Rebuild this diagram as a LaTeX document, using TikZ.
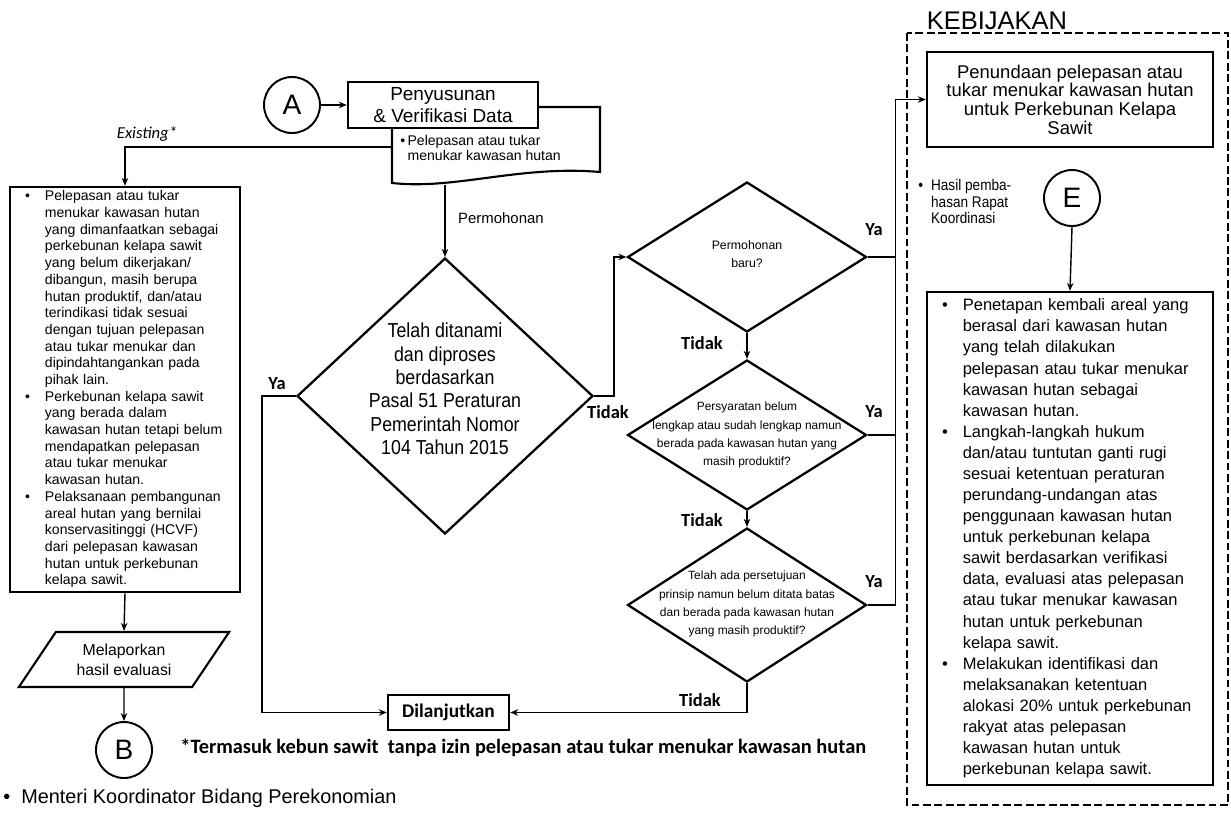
\documentclass[tikz,border=0pt]{standalone}
\usepackage{fontspec}
\setmainfont{Liberation Sans}
\newfontfamily\narrowfont{Liberation Sans}[FakeStretch=0.88]
\newfontfamily\labelfont{Carlito}
\usetikzlibrary{positioning,arrows.meta,shapes.geometric}

\tikzset{
  thickbox/.style={draw, line width=1.4pt, fill=white, inner sep=0pt, align=center},
  decision/.style={draw, diamond, line width=1.3pt, inner sep=0pt},
  conn/.style={line width=0.8pt},
  yesno/.style={font=\labelfont\bfseries\fontsize{10.5}{12}\selectfont, inner sep=1pt},
  connector/.style={draw, circle, line width=1.1pt, minimum size=1.12cm, inner sep=0pt, font=\fontsize{16}{18}\selectfont},
}

\begin{document}
\begin{tikzpicture}[x=0.02cm, y=-0.02cm, >={Stealth[length=1.6mm,width=1.3mm]}]
\useasboundingbox[fill=white] (0,0) rectangle (1231,812);

% top: data preparation
\node[connector] (circA) at (292,105) {A};
\draw[line width=1.2pt, fill=white] (392,107) -- (600,107) -- (600,172)
  .. controls (520,165) and (455,190) .. (392,183) -- cycle;
\node[thickbox, minimum width=3.8cm, minimum height=0.92cm, font=\fontsize{10.8}{12.3}\selectfont] (prep) at (443,105) {Penyusunan\\\& Verifikasi Data};
\node[anchor=west, align=left, inner sep=0pt, font=\fontsize{8}{8.6}\selectfont] (doctxt) at (400,148) {\textbullet\,Pelepasan atau tukar\\\phantom{\textbullet\,}menukar kawasan hutan};
\coordinate (docL) at (392,147);
\coordinate (docB) at (445,185);
\draw[conn,->] (circA) -- (prep);

% left branch
\node[thickbox, minimum width=4.6cm, minimum height=8.1cm, text width=4.3cm, inner xsep=0.15cm, align=left, font=\fontsize{8}{9.5}\selectfont] (lbox) at (125,389.5) {%
\begin{tabular}{@{\hspace{0.15cm}}l@{\hspace{0.3cm}}l@{}}
\textbullet & Pelepasan atau tukar\\
 & menukar kawasan hutan\\
 & yang dimanfaatkan sebagai\\
 & perkebunan kelapa sawit\\
 & yang belum dikerjakan/\\
 & dibangun, masih berupa\\
 & hutan produktif, dan/atau\\
 & terindikasi tidak sesuai\\
 & dengan tujuan pelepasan\\
 & atau tukar menukar dan\\
 & dipindahtangankan pada\\
 & pihak lain.\\
\textbullet & Perkebunan kelapa sawit\\
 & yang berada dalam\\
 & kawasan hutan tetapi belum\\
 & mendapatkan pelepasan\\
 & atau tukar menukar\\
 & kawasan hutan.\\
\textbullet & Pelaksanaan pembangunan\\
 & areal hutan yang bernilai\\
 & konservasitinggi (HCVF)\\
 & dari pelepasan kawasan\\
 & hutan untuk perkebunan\\
 & kelapa sawit.
\end{tabular}};
\node[font=\labelfont\itshape\fontsize{9.5}{11}\selectfont] (exist) at (147,134) {Existing*};
\draw[conn,->] (docL) -| (lbox.north);
\node[draw, trapezium, trapezium left angle=51, trapezium right angle=129, trapezium stretches=true,
  minimum width=4.24cm, minimum height=1.1cm, line width=1.2pt, inner sep=0pt, align=center,
  font=\fontsize{9}{11.5}\selectfont] (report) at (124,659.5) {Melaporkan\\hasil evaluasi};
\node[connector] (circB) at (124,750) {B};
\draw[conn,->] (lbox.south) -- (report.north);
\draw[conn,->] (report.south) -- (circB.north);
\node[anchor=west, inner sep=0pt, font=\fontsize{11.3}{13}\selectfont] (menteri) at (3,798) {\textbullet\hspace{0.22cm}Menteri Koordinator Bidang Perekonomian};

% decisions
\node[decision, minimum width=5.92cm, minimum height=5.52cm] (d1) at (445,396) {};
\node[align=center, font=\narrowfont\fontsize{11.5}{13.3}\selectfont] (d1txt) at (445,389) {Telah ditanami\\dan diproses\\berdasarkan\\Pasal 51 Peraturan\\Pemerintah Nomor\\104 Tahun 2015};
\draw[conn,->] (docB) -- (d1.north);
\node[anchor=west, font=\fontsize{8.5}{10}\selectfont] (perm) at (452,218) {Permohonan};

\node[decision, minimum width=4.78cm, minimum height=3.0cm] (d2) at (747,257) {};
\node[align=center, font=\fontsize{7}{10}\selectfont] (d2txt) at (747,254) {Permohonan\\baru?};
\node[decision, minimum width=4.78cm, minimum height=3.0cm] (d3) at (747,435) {};
\node[align=center, font=\fontsize{6.8}{10.3}\selectfont] (d3txt) at (747,435) {Persyaratan belum\\lengkap atau  sudah lengkap namun\\berada pada kawasan hutan yang\\masih produktif?};
\node[decision, minimum width=4.78cm, minimum height=3.08cm] (d4) at (747,605) {};
\node[align=center, font=\fontsize{6.8}{10.3}\selectfont] (d4txt) at (747,604) {Telah ada persetujuan\\prinsip namun belum ditata batas\\dan berada pada kawasan hutan\\yang masih produktif?};

\node[thickbox, minimum width=2.42cm, minimum height=0.7cm, font=\labelfont\bfseries\fontsize{11}{13}\selectfont] (dil) at (448.5,712.5) {Dilanjutkan};

\draw[conn,->] (d1.west) -- ++(-34,0) |- (dil.west);
\draw[conn,->] (d1.east) -- ++(20,0) |- (d2.west);
\draw[conn,->] (d2.south) -- (d3.north);
\draw[conn,->] (d3.south) -- (d4.north);
\draw[conn,->] (d4.south) |- (dil.east);

\node[yesno] at (277,384) {Ya};
\node[yesno] at (608,412) {Tidak};
\node[yesno] at (874,230) {Ya};
\node[yesno] at (702,343) {Tidak};
\node[yesno] at (874,412) {Ya};
\node[yesno] at (702,520) {Tidak};
\node[yesno] at (874,582) {Ya};
\node[yesno] at (700,700) {Tidak};

\node[anchor=west, inner sep=0pt, font=\labelfont\bfseries\fontsize{11.6}{13}\selectfont] (note) at (180,748) {*Termasuk kebun sawit\ \ tanpa izin pelepasan atau tukar menukar kawasan hutan};

% policy
\node[font=\fontsize{14.5}{16}\selectfont, inner sep=0pt] (kebijakan) at (997,21) {KEBIJAKAN};
\draw[line width=0.9pt, dash pattern=on 4.5pt off 2pt] (907,33) rectangle (1228,805);
\node[thickbox, minimum width=5.72cm, minimum height=1.9cm, font=\fontsize{10.5}{10.6}\selectfont] (pend) at (1070,99.5) {Penundaan pelepasan atau\\tukar menukar kawasan hutan\\untuk Perkebunan Kelapa\\Sawit};
\draw[conn] (d4.east) -- ++(28,0) coordinate (busbot);
\draw[conn] (d2.east) -- (d2.east -| busbot);
\draw[conn] (d3.east) -- (d3.east -| busbot);
\draw[conn,->] (busbot) |- (pend.west);

\node[anchor=north west, inner sep=0pt, font=\narrowfont\fontsize{8.8}{9.6}\selectfont] (hasil) at (918,178) {%
\begin{tabular}{@{}l@{\hspace{0.16cm}}l@{}}
\textbullet & Hasil pemba-\\
 & hasan Rapat\\
 & Koordinasi
\end{tabular}};
\node[connector] (circE) at (1072,198) {E};
\node[thickbox, minimum width=5.72cm, minimum height=9.86cm, text width=5.42cm, inner xsep=0.15cm, align=left, font=\fontsize{9.4}{12}\selectfont] (rbox) at (1070,538.5) {%
\begin{tabular}{@{\hspace{0.15cm}}l@{\hspace{0.3cm}}l@{}}
\textbullet & Penetapan kembali areal yang\\
 & berasal dari kawasan hutan\\
 & yang telah dilakukan\\
 & pelepasan  atau tukar menukar\\
 & kawasan hutan sebagai\\
 & kawasan hutan.\\
\textbullet & Langkah-langkah  hukum\\
 & dan/atau tuntutan ganti rugi\\
 & sesuai ketentuan peraturan\\
 & perundang-undangan  atas\\
 & penggunaan  kawasan hutan\\
 & untuk perkebunan  kelapa\\
 & sawit berdasarkan verifikasi\\
 & data, evaluasi  atas pelepasan\\
 & atau tukar menukar  kawasan\\
 & hutan untuk perkebunan\\
 & kelapa sawit.\\
\textbullet & Melakukan identifikasi dan\\
 & melaksanakan ketentuan\\
 & alokasi 20\% untuk perkebunan\\
 & rakyat atas pelepasan\\
 & kawasan hutan untuk\\
 & perkebunan  kelapa sawit.
\end{tabular}};
\draw[conn,->] (circE.south) -- (rbox.north);
\end{tikzpicture}
\end{document}
